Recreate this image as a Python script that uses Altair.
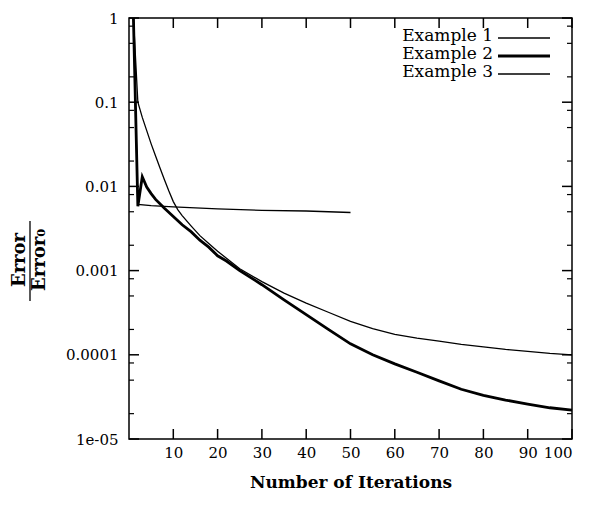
import altair as alt
import pandas as pd

# ---- data ----
ex1_x = [1, 2, 3, 4, 5, 6, 7, 8, 9, 10, 11, 12, 14, 16, 18, 20, 22, 25, 30, 35, 40, 45, 50, 55, 60, 65, 70, 75, 80, 85, 90, 95, 100]
ex1_y = [1.0, 0.1, 0.066, 0.046, 0.032, 0.023, 0.0165, 0.012, 0.0088, 0.0066, 0.0053, 0.0045, 0.0034, 0.0026, 0.0021, 0.0017, 0.0014, 0.00105, 0.00074, 0.00054, 0.00041, 0.00032, 0.00025, 0.000205, 0.000175, 0.000158, 0.000145, 0.000133, 0.000124, 0.000116, 0.00011, 0.000104, 0.0001]

ex2_x = [1, 2, 3, 4, 5, 6, 8, 10, 12, 14, 16, 18, 20, 22, 25, 30, 35, 40, 45, 50, 55, 60, 65, 70, 75, 80, 85, 90, 95, 100]
ex2_y = [1.0, 0.0058, 0.013, 0.0098, 0.0082, 0.007, 0.0055, 0.0044, 0.0035, 0.0029, 0.0023, 0.0019, 0.0015, 0.0013, 0.001, 0.00068, 0.00045, 0.0003, 0.0002, 0.000135, 0.0001, 0.000078, 0.000062, 0.000049, 0.000039, 0.000033, 0.000029, 0.000026, 0.0000235, 0.000022]

ex3_x = [1, 2, 5, 10, 20, 30, 40, 50]
ex3_y = [1.0, 0.0061, 0.0059, 0.0057, 0.0054, 0.0052, 0.0051, 0.0049]

series_names = ["Example 1", "Example 2", "Example 3"]
series_widths = [1.3, 2.8, 1.3]

x_ticks = [10, 20, 30, 40, 50, 60, 70, 80, 90, 100]
y_ticks = [1e-5, 1e-4, 1e-3, 1e-2, 1e-1, 1]
y_minor = [m * d for d in [1e-5, 1e-4, 1e-3, 1e-2, 1e-1] for m in [2, 5, 8]]

W, H = 443, 421
FONT = "DejaVu Serif"

xscale = alt.Scale(domain=[0, 100], nice=False, zero=False)
yscale = alt.Scale(type="log", domain=[1e-5, 1], nice=False)

x_axis = alt.Axis(values=x_ticks, title="Number of Iterations", grid=False,
                  ticks=False, domain=False, labelPadding=6,
                  labelFont=FONT, labelFontSize=15, labelColor="black",
                  titleFont=FONT, titleFontSize=17, titleFontWeight="bold",
                  titleColor="black", titlePadding=14)
y_axis = alt.Axis(values=y_ticks, title="", grid=False, ticks=False,
                  domain=False, labelPadding=11,
                  labelExpr="datum.value < 2e-5 ? '1e-05' : format(datum.value, '~g')",
                  labelFont=FONT, labelFontSize=15, labelColor="black",
                  labelBaseline="middle")

layers = []
for name, xs, ys, w in zip(series_names, [ex1_x, ex2_x, ex3_x], [ex1_y, ex2_y, ex3_y], series_widths):
    d = pd.DataFrame({"iter": xs, "err": ys, "order": list(range(len(xs)))})
    layers.append(
        alt.Chart(d).mark_line(color="black", strokeWidth=w).encode(
            x=alt.X("iter:Q", scale=xscale, axis=x_axis),
            y=alt.Y("err:Q", scale=yscale, axis=y_axis),
            order="order:Q",
        )
    )

xt = pd.DataFrame({"iter": x_ticks})
yt = pd.DataFrame({"err": y_ticks})
ym = pd.DataFrame({"err": y_minor})

tick_style = dict(color="black", strokeWidth=1.5)
XV = alt.X("iter:Q", scale=xscale, axis=x_axis)
YV = alt.Y("err:Q", scale=yscale, axis=y_axis)
layers += [
    alt.Chart(xt).mark_rule(**tick_style).encode(x=XV, y=alt.value(H), y2=alt.value(H - 10)),
    alt.Chart(xt).mark_rule(**tick_style).encode(x=XV, y=alt.value(0), y2=alt.value(10)),
    alt.Chart(yt).mark_rule(**tick_style).encode(y=YV, x=alt.value(0), x2=alt.value(10)),
    alt.Chart(yt).mark_rule(**tick_style).encode(y=YV, x=alt.value(W), x2=alt.value(W - 10)),
    alt.Chart(ym).mark_rule(color="black", strokeWidth=1.2).encode(y=YV, x=alt.value(0), x2=alt.value(5)),
    alt.Chart(ym).mark_rule(color="black", strokeWidth=1.2).encode(y=YV, x=alt.value(W), x2=alt.value(W - 5)),
]

# legend (labels left of line samples)
for i, (name, w) in enumerate(zip(series_names, series_widths)):
    yy = 18 + 18 * i
    ld = pd.DataFrame({"name": [name]})
    layers.append(alt.Chart(ld).mark_text(align="right", baseline="middle", font=FONT, fontSize=17,
                                          color="black").encode(text="name:N", x=alt.value(364), y=alt.value(yy)))
    layers.append(alt.Chart(ld).mark_rule(color="black", strokeWidth=w).encode(
        x=alt.value(369), x2=alt.value(421), y=alt.value(yy + 2)))

# y-axis label as a stacked fraction Error / Error0
frac = pd.DataFrame({"t": ["Error"], "b": ["Error₀"]})
txt = dict(angle=270, font=FONT, fontSize=18, fontWeight="bold", color="black", align="center", baseline="middle")
layers += [
    alt.Chart(frac).mark_text(**txt).encode(text="t:N", x=alt.value(-109), y=alt.value(242)),
    alt.Chart(frac).mark_text(**txt).encode(text="b:N", x=alt.value(-89), y=alt.value(242)),
    alt.Chart(frac).mark_rule(color="black", strokeWidth=1.3).encode(x=alt.value(-99), y=alt.value(203), y2=alt.value(283)),
]

chart = alt.layer(*layers).properties(
    width=W, height=H,
    autosize=alt.AutoSizeParams(type="none"),
    padding={"left": 129, "top": 18, "right": 18, "bottom": 70},
    background="white",
).configure_view(stroke="black", strokeWidth=1.5)

chart.save("out.html", embed_options={"renderer": "svg", "actions": False})
